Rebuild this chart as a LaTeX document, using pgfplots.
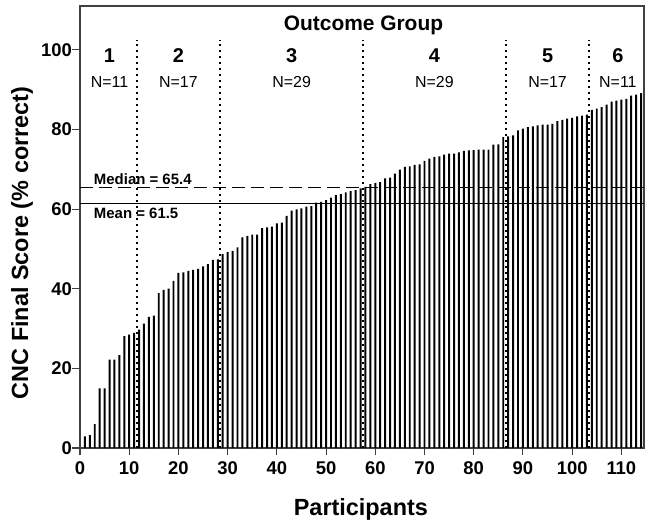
\documentclass[border=0pt]{standalone}
\usepackage{fontspec}
\setmainfont{Liberation Sans}
\usepackage{pgfplots}
\pgfplotsset{compat=1.18}
\usepackage{pgfplotstable}
\tikzset{
  gnum/.style={font=\fontsize{20}{20}\selectfont\bfseries},
  nlab/.style={font=\fontsize{16}{16}\selectfont},
  vdot/.style={black, line width=2bp, dash pattern=on 1.8bp off 4.2bp},
}
\pgfplotstableread{
x y
1 2.9
2 3.25
3 6
4 15
5 15
6 22.2
7 22.2
8 23.3
9 28.1
10 28.5
11 28.9
12 29.75
13 31.25
14 32.9
15 33.25
16 38.9
17 39.7
18 40
19 42
20 44
21 44.1
22 44.5
23 44.75
24 45
25 45.6
26 46.2
27 47.25
28 47.4
29 48.7
30 49.2
31 49.5
32 50.4
33 52.9
34 53.25
35 53.6
36 53.6
37 55.2
38 55.4
39 55.6
40 56.4
41 56.6
42 58.3
43 59.6
44 59.9
45 60.2
46 60.6
47 60.75
48 61.6
49 61.8
50 62.25
51 62.9
52 63.5
53 63.75
54 64.2
55 64.5
56 64.75
57 65.2
58 65.6
59 66.25
60 66.6
61 66.8
62 67.7
63 67.9
64 68.9
65 69.9
66 70.6
67 70.75
68 71.1
69 71.2
70 72.1
71 72.7
72 73.1
73 73.25
74 73.7
75 73.9
76 73.9
77 74.25
78 74.6
79 74.75
80 74.8
81 74.9
82 74.9
83 74.9
84 76.2
85 76.25
86 78.1
87 78.25
88 78.5
89 79.75
90 80.2
91 80.6
92 80.75
93 81
94 81.2
95 81.2
96 81.4
97 82.1
98 82.4
99 82.7
100 82.9
101 83.25
102 83.5
103 83.75
104 84.9
105 85.25
106 85.6
107 86.25
108 87
109 87.25
110 87.5
111 87.7
112 88.5
113 88.75
114 89.1
}\datatable

\begin{document}
\begin{tikzpicture}
\begin{axis}[
  name=ax,
  scale only axis, width=564bp, height=442bp,
  xmin=0, xmax=114.6, ymin=0, ymax=111,
  xtick={0,10,...,110}, ytick={0,20,...,100},
  tick align=outside, tick pos=left, major tick length=7.5bp,
  axis line style={line width=1.1pt, black!75},
  tick style={line width=1.1pt, black!75},
  ticklabel style={font=\fontsize{18.5}{18.5}\selectfont\bfseries},
  xticklabel style={yshift=-3bp},
  yticklabel style={xshift=3bp},
  /pgf/number format/assume math mode=true,
  xlabel={Participants}, ylabel={CNC Final Score (\% correct)},
  label style={font=\fontsize{23.5}{23.5}\selectfont\bfseries},
  xlabel style={at={(axis description cs:0.498,-0.14)}, anchor=center},
  ylabel style={at={(axis description cs:-0.1028,0.464)}, anchor=center},
  clip=false,
]
\addplot[ybar, bar width=0.4, fill=black, draw=none] table[x=x,y=y]{\datatable};
\addplot[black, line width=1.3pt, dash pattern=on 13bp off 6bp] coordinates {(0,65.4) (114.6,65.4)};
\addplot[black, line width=1pt] coordinates {(0,61.5) (114.6,61.5)};
\addplot[vdot] coordinates {(11.5,0) (11.5,102.5)};
\addplot[vdot] coordinates {(28.5,0) (28.5,102.5)};
\addplot[vdot] coordinates {(57.5,0) (57.5,102.5)};
\addplot[vdot] coordinates {(86.5,0) (86.5,102.5)};
\addplot[vdot] coordinates {(103.5,0) (103.5,102.5)};
\node[font=\fontsize{21}{21}\selectfont\bfseries] at (axis cs:57.6,106.2) {Outcome Group};
\node[gnum] at (axis cs:6,98.6) {1};
\node[gnum] at (axis cs:20,98.6) {2};
\node[gnum] at (axis cs:43,98.6) {3};
\node[gnum] at (axis cs:72,98.6) {4};
\node[gnum] at (axis cs:95,98.6) {5};
\node[gnum] at (axis cs:109.3,98.6) {6};
\node[nlab] at (axis cs:6,91.8) {N=11};
\node[nlab] at (axis cs:20,91.8) {N=17};
\node[nlab] at (axis cs:43,91.8) {N=29};
\node[nlab] at (axis cs:72,91.8) {N=29};
\node[nlab] at (axis cs:95,91.8) {N=17};
\node[nlab] at (axis cs:109.3,91.8) {N=11};
\node[font=\fontsize{15}{15}\selectfont\bfseries, anchor=west, inner sep=0pt] at (axis cs:2.8,67.4) {Median = 65.4};
\node[font=\fontsize{15}{15}\selectfont\bfseries, anchor=west, inner sep=0pt] at (axis cs:2.8,59.0) {Mean = 61.5};
\end{axis}
\pgfresetboundingbox
\path[use as bounding box] ([xshift=-80bp,yshift=-79bp]ax.south west) rectangle ([xshift=4bp,yshift=6bp]ax.north east);
\end{tikzpicture}
\end{document}
